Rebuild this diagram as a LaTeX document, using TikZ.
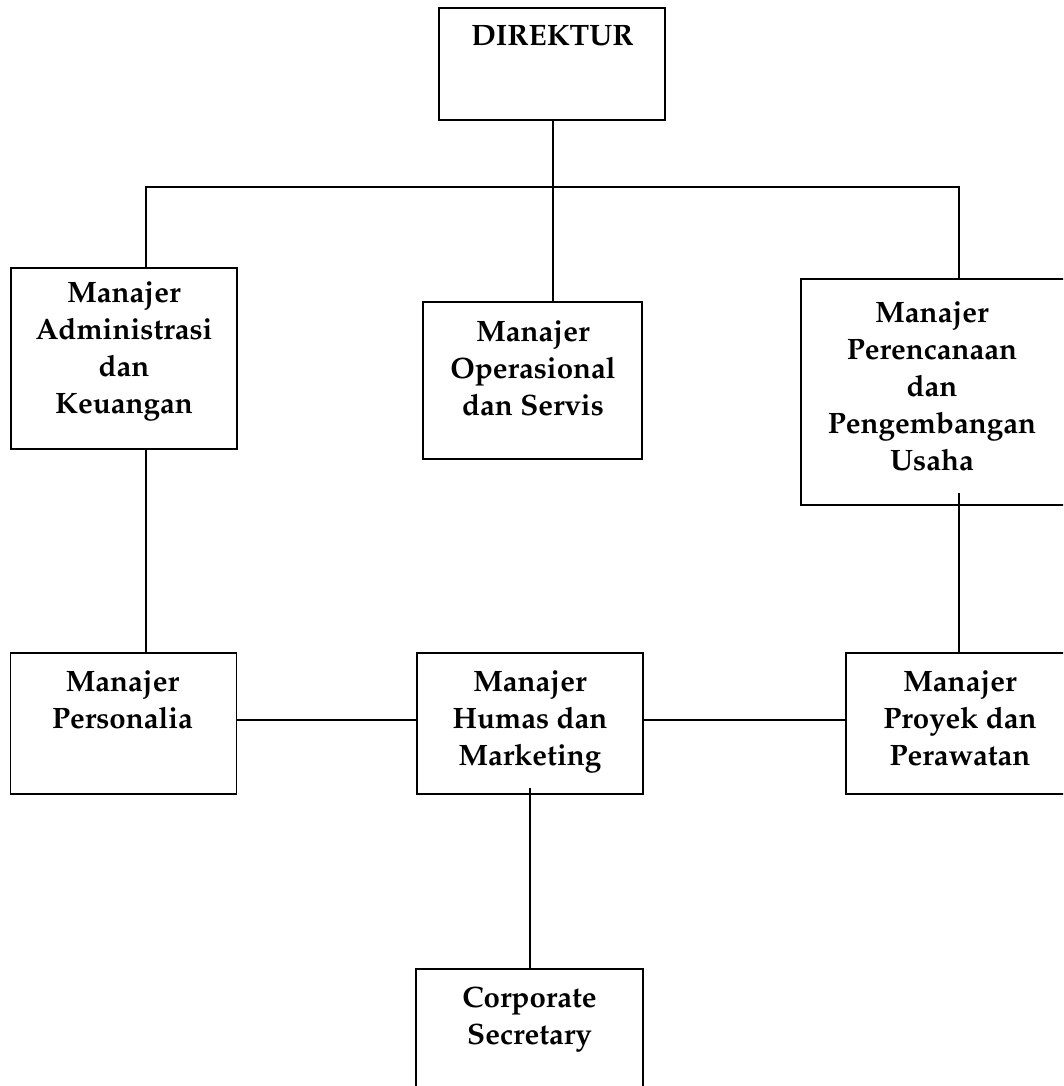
\documentclass[tikz,border=0pt]{standalone}
\usepackage[T1]{fontenc}
\usepackage{mathpazo}
\begin{document}
\begin{tikzpicture}[x=1pt,y=-1pt,
  box/.style={draw,rectangle,line width=1.3pt,inner sep=0pt,outer sep=0pt},
  lbl/.style={align=center,inner sep=0pt,anchor=north,font=\fontsize{29.5}{36.8}\selectfont\bfseries},
  conn/.style={line width=1.3pt}]
\clip (0,0) rectangle (1063,1086);
\fill[white] (0,0) rectangle (1063,1086);
% boxes
\node[box,minimum width=226pt,minimum height=112pt] (dir) at (552,64) {};
\node[box,minimum width=226pt,minimum height=181pt] (adm) at (124,358.5) {};
\node[box,minimum width=219pt,minimum height=157pt] (ops) at (532.5,380.5) {};
\node[box,minimum width=316pt,minimum height=226pt] (ren) at (959,392) {};
\node[box,minimum width=226pt,minimum height=141pt] (per) at (123.5,723.5) {};
\node[box,minimum width=226pt,minimum height=141pt] (hum) at (530,723.5) {};
\node[box,minimum width=226pt,minimum height=141pt] (pro) at (959,723.5) {};
\node[box,minimum width=227pt,minimum height=141pt] (sec) at (529.5,1039.5) {};
% texts
\node[lbl] (tdir) at (552.5,26) {DIREKTUR};
\node[lbl] (tadm) at (124,282) {Manajer\\Administrasi\\dan\\Keuangan};
\node[lbl] (tops) at (533,321) {Manajer\\Operasional\\dan Servis};
\node[lbl] (tren) at (932,302) {Manajer\\Perencanaan\\dan\\Pengembangan\\Usaha};
\node[lbl] (tper) at (122.5,671) {Manajer\\Personalia};
\node[lbl] (thum) at (530,671) {Manajer\\Humas dan\\Marketing};
\node[lbl] (tpro) at (960,671) {Manajer\\Proyek dan\\Perawatan};
\node[lbl] (tsec) at (529.5,987) {Corporate\\Secretary};
% connectors
\coordinate (jm) at (553,187);
\coordinate (jl) at (146,187);
\coordinate (jr) at (959,187);
\coordinate (rs) at (959,493);
\coordinate (hs) at (530,788);
\coordinate (hy) at (0,720);
\draw[conn] (jm |- dir.south) -- (jm |- ops.north);
\draw[conn] (jl |- adm.north) -- (jl) -- (jr) -- (jr |- ren.north);
\draw[conn] (jl |- adm.south) -- (jl |- per.north);
\draw[conn] (rs) -- (rs |- pro.north);
\draw[conn] (per.east |- hy) -- (hum.west |- hy);
\draw[conn] (hum.east |- hy) -- (pro.west |- hy);
\draw[conn] (hs) -- (hs |- sec.north);
\end{tikzpicture}
\end{document}
